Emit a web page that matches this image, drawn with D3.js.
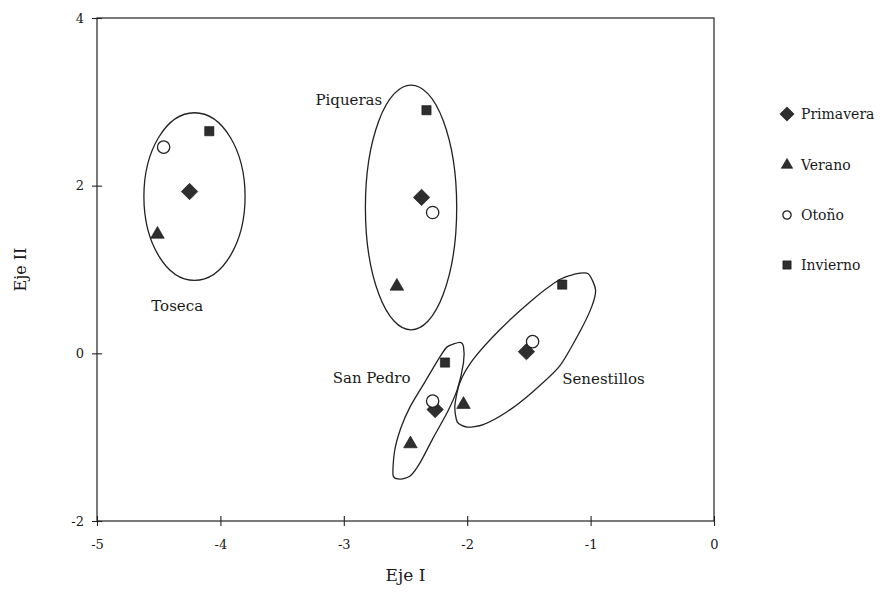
<!DOCTYPE html>
<html>
<head>
<meta charset="utf-8">
<script src="https://cdn.jsdelivr.net/npm/d3@7"></script>
<style>
  body { margin: 0; background: #fff; }
  text { font-family: "DejaVu Serif", "Liberation Serif", serif; fill: #1a1a1a; }
</style>
</head>
<body>
<div id="chart"></div>
<script>
// seasons (legend order)
const seasons = ["Primavera", "Verano", "Otoño", "Invierno"];

// Eje I / Eje II scores per site, one value per season
const sites = ["Toseca", "Piqueras", "San Pedro", "Senestillos"];
const ejeI = {
    "Toseca": [-4.25, -4.51, -4.46, -4.09],
    "Piqueras": [-2.37, -2.57, -2.28, -2.33],
    "San Pedro": [-2.26, -2.46, -2.28, -2.18],
    "Senestillos": [-1.52, -2.03, -1.47, -1.23]
};
const ejeII = {
    "Toseca": [1.93, 1.42, 2.46, 2.65],
    "Piqueras": [1.86, 0.80, 1.68, 2.90],
    "San Pedro": [-0.67, -1.08, -0.57, -0.11],
    "Senestillos": [0.02, -0.61, 0.14, 0.82]
};

// group outlines: ellipses [cx, cy, rx, ry] and free hulls
const ellipses = {
    "Toseca": [-4.21, 1.87, 0.41, 1.0],
    "Piqueras": [-2.455, 1.74, 0.37, 1.46]
};
const hulls = {
    "San Pedro": [[-2.06, 0.13], [-2.16, 0.08], [-2.22, -0.04], [-2.33, -0.31], [-2.46, -0.63],
        [-2.54, -0.90], [-2.59, -1.18], [-2.60, -1.46], [-2.54, -1.50], [-2.46, -1.46],
        [-2.38, -1.30], [-2.28, -1.02], [-2.16, -0.70], [-2.08, -0.43], [-2.03, -0.11],
        [-2.03, 0.08]],
    "Senestillos": [[-1.02, 0.95], [-1.14, 0.94], [-1.25, 0.88], [-1.47, 0.64], [-1.73, 0.29],
        [-1.95, -0.07], [-2.06, -0.35], [-2.10, -0.63], [-2.08, -0.82], [-2.00, -0.88],
        [-1.87, -0.85], [-1.68, -0.70], [-1.47, -0.46], [-1.25, -0.15], [-1.09, 0.25],
        [-0.99, 0.56], [-0.96, 0.76]]
};
// where each site name sits (data units, text start / baseline)
const siteLabels = {
    "Toseca": [-4.56, 0.50],
    "Piqueras": [-3.23, 2.96],
    "San Pedro": [-3.09, -0.35],
    "Senestillos": [-1.23, -0.37]
};

const xTicks = [-5, -4, -3, -2, -1, 0];
const yTicks = [-2, 0, 2, 4];

//Setup Dimensions
const width = 888;
const height = 593;
const margin = { top: 18, right: 174, bottom: 72, left: 97 };

const svg = d3.select("#chart")
    .append("svg")
    .attr("width", width)
    .attr("height", height);

const x = d3.scaleLinear().domain([-5, 0]).range([margin.left, width - margin.right]);
const y = d3.scaleLinear().domain([-2, 4]).range([height - margin.bottom, margin.top]);

//Frame
svg.append("rect")
    .attr("x", x(-5)).attr("y", y(4))
    .attr("width", x(0) - x(-5)).attr("height", y(-2) - y(4))
    .attr("fill", "none").attr("stroke", "#222").attr("stroke-width", 1.2);

//Axes (plain hyphen for negatives, as in the original)
const fmt = d => String(d);
const xAxis = svg.append("g")
    .attr("transform", `translate(0, ${y(-2)})`)
    .call(d3.axisBottom(x).tickValues(xTicks).tickSize(5).tickFormat(fmt));
xAxis.selectAll(".tick line").attr("y1", -5);
const yAxis = svg.append("g")
    .attr("transform", `translate(${x(-5)}, 0)`)
    .call(d3.axisLeft(y).tickValues(yTicks).tickSize(5).tickFormat(fmt));
yAxis.selectAll(".tick line").attr("x1", 5);
[xAxis, yAxis].forEach(a => {
    a.select(".domain").remove();
    a.selectAll(".tick line").attr("stroke", "#222").attr("stroke-width", 1.1);
    a.selectAll(".tick text")
        .style("font-family", "'DejaVu Serif', serif")
        .style("font-size", "13px")
        .attr("fill", "#1a1a1a");
});
xAxis.selectAll(".tick text").attr("dy", "1.55em");
yAxis.selectAll(".tick text").attr("x", -13);

svg.append("text")
    .attr("x", x(-2.5)).attr("y", 581)
    .attr("text-anchor", "middle")
    .style("font-size", "17px")
    .text("Eje I");
svg.append("text")
    .attr("transform", `translate(26, ${y(1)}) rotate(-90)`)
    .attr("text-anchor", "middle")
    .style("font-size", "16px")
    .text("Eje II");

//Group outlines
const plot = svg.append("g");
Object.entries(ellipses).forEach(([name, e]) => {
    plot.append("ellipse")
        .attr("cx", x(e[0])).attr("cy", y(e[1]))
        .attr("rx", x(e[0] + e[2]) - x(e[0]))
        .attr("ry", y(e[1] - e[3]) - y(e[1]))
        .attr("fill", "none").attr("stroke", "#222").attr("stroke-width", 1.3);
});
const hullLine = d3.line()
    .x(d => x(d[0])).y(d => y(d[1]))
    .curve(d3.curveCardinalClosed.tension(0.3));
Object.entries(hulls).forEach(([name, pts]) => {
    plot.append("path")
        .attr("d", hullLine(pts))
        .attr("fill", "none").attr("stroke", "#222").attr("stroke-width", 1.3);
});

//Site labels
sites.forEach(s => {
    plot.append("text")
        .attr("x", x(siteLabels[s][0])).attr("y", y(siteLabels[s][1]))
        .style("font-size", "15px")
        .text(s);
});

//Markers: diamond = rotated square
const symbolTypes = [d3.symbolSquare, d3.symbolTriangle, d3.symbolCircle, d3.symbolSquare];
const symbolSizes = [135, 80, 120, 85];
const symbolRotate = [45, 0, 0, 0];
function drawMarker(g, i, px, py, k) {
    const p = g.append("path")
        .attr("d", d3.symbol().type(symbolTypes[i]).size(symbolSizes[i] * k)())
        .attr("transform", `translate(${px}, ${py}) rotate(${symbolRotate[i]})`);
    if (i === 2) {
        p.attr("fill", "#fff").attr("stroke", "#222").attr("stroke-width", 1.3);
    } else {
        p.attr("fill", "#2e2e2e").attr("stroke", "#111").attr("stroke-width", 0.6);
    }
}
sites.forEach(s => {
    seasons.forEach((season, i) => {
        drawMarker(plot, i, x(ejeI[s][i]), y(ejeII[s][i]), 1);
    });
});

//Legend
const legendY = [114, 165, 215, 265];
const legendScale = [0.75, 0.7, 0.45, 0.8];
const legend = svg.append("g");
seasons.forEach((season, i) => {
    drawMarker(legend, i, 787, legendY[i], legendScale[i]);
    legend.append("text")
        .attr("x", 801).attr("y", legendY[i] + 5)
        .style("font-size", "14px")
        .text(season);
});
</script>
</body>
</html>
